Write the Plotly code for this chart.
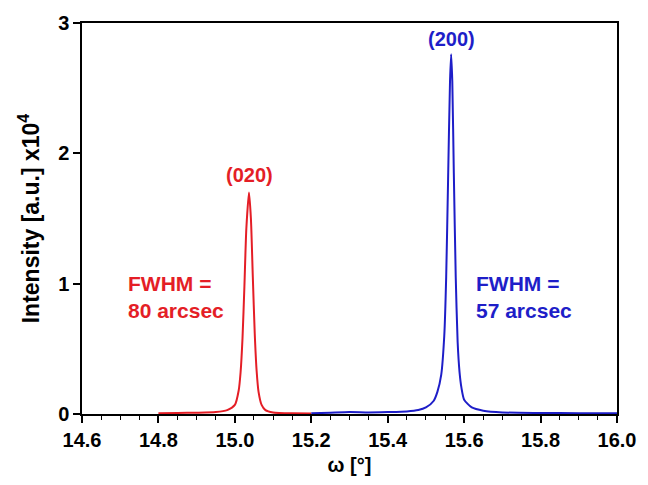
import plotly.graph_objects as go

# (020) reflection, omega in degrees, intensity in units of 1e4
omega_020 = [14.80, 14.85, 14.90, 14.95, 14.98, 15.00, 15.01, 15.015, 15.02, 15.025,
             15.03, 15.037, 15.042, 15.047, 15.052, 15.057, 15.062, 15.07, 15.08, 15.10,
             15.15, 15.20]
int_020 = [0.005, 0.008, 0.010, 0.015, 0.03, 0.07, 0.18, 0.32, 0.58, 0.98,
           1.42, 1.70, 1.50, 1.05, 0.62, 0.33, 0.17, 0.07, 0.03, 0.012,
           0.005, 0.004]

# (200) reflection
omega_200 = [15.20, 15.25, 15.30, 15.35, 15.40, 15.45, 15.48, 15.50, 15.52, 15.53,
             15.54, 15.548, 15.553, 15.558, 15.563, 15.566, 15.569, 15.573, 15.578, 15.583,
             15.588, 15.593, 15.60, 15.62, 15.65, 15.70, 15.80, 15.90, 16.00]
int_200 = [0.005, 0.010, 0.015, 0.012, 0.015, 0.020, 0.030, 0.050, 0.10, 0.17,
           0.30, 0.60, 1.05, 1.80, 2.55, 2.76, 2.55, 1.85, 1.05, 0.55,
           0.32, 0.20, 0.11, 0.05, 0.025, 0.012, 0.008, 0.006, 0.005]

peak_labels = ["(020)", "(200)"]
peak_pos = [15.037, 15.566]
peak_label_y = [1.83, 2.88]
fwhm_texts = ["FWHM =<br>80 arcsec", "FWHM =<br>57 arcsec"]
fwhm_x = [14.715, 15.625]
fwhm_y = [0.90, 0.90]

RED = "rgb(228,30,38)"
BLUE = "rgb(30,30,200)"
colors = [RED, BLUE]
FONT = "Arial, Liberation Sans, sans-serif"

fig = go.Figure()
fig.add_trace(go.Scatter(x=omega_020, y=int_020, mode="lines",
                         line=dict(color=RED, width=2, shape="spline", smoothing=0.6),
                         showlegend=False))
fig.add_trace(go.Scatter(x=omega_200, y=int_200, mode="lines",
                         line=dict(color=BLUE, width=2, shape="spline", smoothing=0.6),
                         showlegend=False))

for i in range(2):
    fig.add_annotation(x=peak_pos[i], y=peak_label_y[i], text="<b>%s</b>" % peak_labels[i],
                       showarrow=False, xref="x", yref="y",
                       font=dict(family=FONT, size=20, color=colors[i]))
    fig.add_annotation(x=fwhm_x[i], y=fwhm_y[i], text="<b>%s</b>" % fwhm_texts[i],
                       showarrow=False, xref="x", yref="y", xanchor="left", yanchor="middle",
                       align="left",
                       font=dict(family=FONT, size=21, color=colors[i]))

fig.update_layout(
    width=648, height=485,
    margin=dict(l=82, r=22, t=20, b=63),
    paper_bgcolor="white", plot_bgcolor="white",
    font=dict(family=FONT, color="black"),
)
fig.update_xaxes(
    range=[14.6, 16.0], dtick=0.2, tick0=14.6, tickformat=".1f",
    showgrid=False, zeroline=False,
    showline=True, linecolor="black", linewidth=1.5, mirror=True,
    ticks="outside", ticklen=7, tickwidth=1.5, tickcolor="black",
    minor=dict(dtick=0.05, ticks="outside", ticklen=4, tickwidth=1, tickcolor="black"),
    tickfont=dict(family=FONT, size=20, color="black", weight="bold"),
    title=dict(text="<b>ω [°]</b>", font=dict(family=FONT, size=20, color="black"), standoff=8),
)
fig.update_yaxes(
    range=[0, 3], dtick=1,
    showgrid=False, zeroline=False,
    showline=True, linecolor="black", linewidth=1.5, mirror=True,
    ticks="outside", ticklen=7, tickwidth=1.5, tickcolor="black",
    tickfont=dict(family=FONT, size=20, color="black", weight="bold"),
    title=dict(text="<b>Intensity [a.u.] x10<sup>4</sup></b>",
               font=dict(family=FONT, size=23, color="black"), standoff=12),
)

fig.write_html("out.html")
